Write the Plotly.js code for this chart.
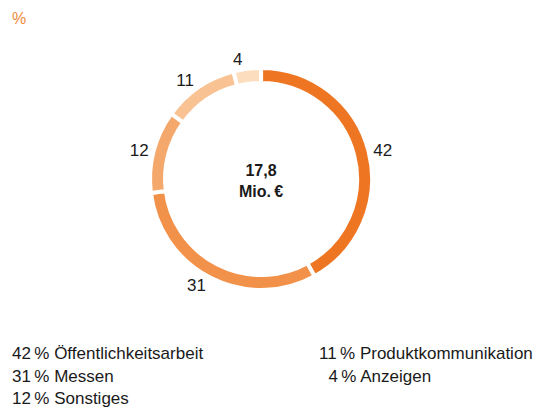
<!DOCTYPE html>
<html><head><meta charset="utf-8">
<script src="https://cdn.plot.ly/plotly-3.0.1.min.js"></script>
<style>html,body{margin:0;padding:0;background:#fff;}#chart{width:559px;height:407px;}</style>
</head><body><div id="chart"></div>
<script>
const categories = ["Öffentlichkeitsarbeit", "Messen", "Sonstiges", "Produktkommunikation", "Anzeigen"];
const values = [42, 31, 12, 11, 4];
const colors = ["#EE7623", "#F29149", "#F5A86C", "#F9C292", "#FCDDBD"];
const totalText = ["17,8", "Mio.\u202F€"];
const unitLabel = "%";

const FONT = "Liberation Sans, Arial, Helvetica, sans-serif";

const trace = {
  type: "pie",
  labels: categories,
  values: values,
  sort: false,
  direction: "clockwise",
  rotation: 0,
  hole: 0.865,
  marker: {colors: colors, line: {color: "#ffffff", width: 4}},
  textinfo: "value",
  texttemplate: "%{value}",
  textposition: "outside",
  outsidetextfont: {family: FONT, size: 17, color: "#1a1a1a"},
  showlegend: false,
  hoverinfo: "label+value",
  domain: {x: [0.268, 0.666], y: [0.2875, 0.833]}
};

const annotations = [];
annotations.push({text: unitLabel, x: 10/559, y: 1 - 18/407, xref: "paper", yref: "paper",
  xanchor: "left", yanchor: "middle", showarrow: false, font: {family: FONT, size: 16, color: "#F08A3C"}});
annotations.push({text: "<b>" + totalText[0] + "</b><br><b>" + totalText[1] + "</b>", x: 261/559, y: 1 - 181/407,
  xref: "paper", yref: "paper", xanchor: "center", yanchor: "middle", showarrow: false,
  font: {family: FONT, size: 16, color: "#1a1a1a"}});

const colX = [10, 317];
const rowY = [353, 376, 398];
const perCol = 3;
values.forEach((v, i) => {
  const col = Math.floor(i / perCol), row = i % perCol;
  const num = (v < 10 ? "\u2007" : "") + v;
  annotations.push({text: num + "\u202F% " + categories[i], x: colX[col]/559, y: 1 - rowY[row]/407,
    xref: "paper", yref: "paper", xanchor: "left", yanchor: "middle", showarrow: false,
    font: {family: FONT, size: 17, color: "#1a1a1a"}});
});

const layout = {
  width: 559, height: 407,
  margin: {l: 0, r: 0, t: 0, b: 0},
  paper_bgcolor: "#ffffff",
  font: {family: FONT},
  annotations: annotations
};
Plotly.newPlot("chart", [trace], layout, {displayModeBar: false, staticPlot: true});
</script>
</body></html>
